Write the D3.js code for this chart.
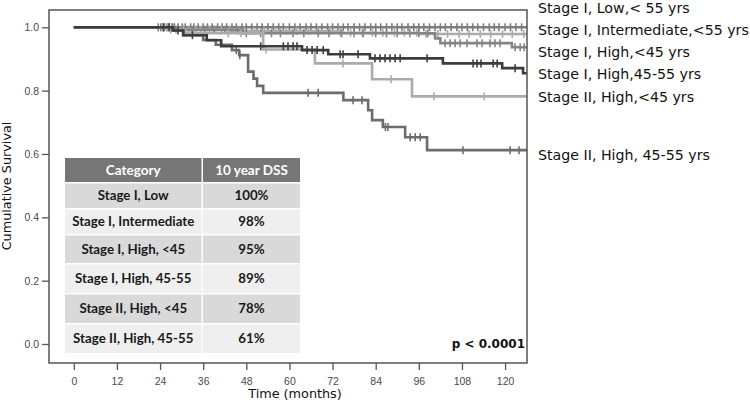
<!DOCTYPE html>
<html><head><meta charset="utf-8">
<script src="https://cdn.jsdelivr.net/npm/d3@7"></script>
<style>
html,body{margin:0;padding:0;background:#fff;}
svg{display:block;}
</style></head>
<body><svg id="chart" width="750" height="404"></svg>
<script>
// ---------- DATA ----------
const xTicks = [0, 12, 24, 36, 48, 60, 72, 84, 96, 108, 120];
const yTicks = [0.0, 0.2, 0.4, 0.6, 0.8, 1.0];
const seriesLabels = [
  "Stage I, Low,< 55 yrs",
  "Stage I, Intermediate,<55 yrs",
  "Stage I, High,<45 yrs",
  "Stage I, High,45-55 yrs",
  "Stage II, High,<45 yrs",
  "Stage II, High, 45-55 yrs"
];
// step points: [month, survival after step]
const lowSteps = [[0, 1]];
const intSteps = [[0, 1], [27, 0.993], [44, 0.988], [74, 0.983], [96, 0.979]];
const hi45Steps = [[0, 1], [30, 0.992], [47, 0.981], [100.5, 0.965], [102, 0.95], [121.9, 0.937]];
const hi4555Steps = [[0, 1], [27.5, 0.99], [30.4, 0.975], [37, 0.959], [41, 0.94], [63.5, 0.928], [70.8, 0.915], [82.4, 0.902], [102.7, 0.886], [119.2, 0.871], [125, 0.855]];
const s2lt45Steps = [[0, 1], [26, 0.992], [31, 0.981], [52.7, 0.93], [67.1, 0.886], [83, 0.836], [94.1, 0.782]];
const s24555Steps = [[0, 1], [28, 0.99], [30.5, 0.975], [36, 0.96], [39.5, 0.945], [44, 0.928], [46, 0.912], [48.5, 0.86], [50, 0.838], [51, 0.815], [52.7, 0.793], [75, 0.77], [81.9, 0.738], [83, 0.707], [86, 0.685], [92.2, 0.653], [98.3, 0.612]];
// censoring marks (months)
const lowCensor = [23.5, 24.2, 25, 25.8, 26.5, 27.3, 28, 29, 30.2, 31, 32.5, 33.4, 34.6, 36, 37.2, 38.5, 40, 41.3, 42.5, 44, 45.2, 46.8, 48, 49.5, 51, 52.4, 54, 55.5, 57, 58.3, 60, 61.5, 63, 64.6, 66, 67.5, 69, 70.6, 72, 73.5, 75, 76.3, 78, 79.5, 81, 82.6, 84, 85.4, 87, 88.5, 90, 91.3, 93, 94.6, 96, 97.4, 99, 100.5, 102, 103.4, 105, 106.6, 108, 109.5, 111, 112.4, 114, 115.6, 117, 118.3, 120, 121.5, 123, 124.6];
const intCensor = [24.6, 26, 28.4, 30.6, 32, 33.9, 35.3, 37.8, 39.2, 41, 43.4, 45.8, 47.3, 50.2, 53, 56, 59.1, 62, 65.3, 68, 71.2, 74.2, 77, 80.3, 83.1, 86, 89.2, 92, 95.4, 98, 101.3, 104, 107.2, 110, 113.1, 116, 119.3, 122, 125.2];
const hi45Censor = [25, 27.5, 31, 33, 36.5, 39, 42, 45.5, 48, 52, 55, 57.5, 61, 64, 68, 71, 74.5, 78, 80.5, 84, 87, 90, 93.5, 96, 98.5, 103.3, 104.7, 106.1, 107.5, 109.4, 112.2, 113.6, 115.8, 117.2, 118.6, 122.8, 124.2, 125.3];
const hi4555Censor = [25, 26.5, 29, 33, 52, 58.3, 59.6, 61, 62.1, 64.9, 66.3, 67.7, 69.4, 74.1, 74.9, 79.1, 83.8, 85.2, 86.6, 88, 89.4, 90.8, 98.3, 111.1, 112.2, 113.3, 116.7, 117.8, 122.8];
const s2lt45Censor = [24.5, 27, 43, 46.5, 53.5, 74.9, 88.3, 100.2, 114.2];
const s24555Censor = [45.2, 46.2, 65.2, 68, 77.7, 80.2, 86.7, 87.4, 93.6, 95, 96.4, 108.3, 121.4, 123.9];
const endMonth = 126.2;
// table
const tableHeader = ["Category", "10 year DSS"];
const tableCategories = ["Stage I, Low", "Stage I, Intermediate", "Stage I, High, <45", "Stage I, High, 45-55", "Stage II, High, <45", "Stage II, High, 45-55"];
const tableDSS = ["100%", "98%", "95%", "89%", "78%", "61%"];
const pValueText = "p < 0.0001";

// ---------- LAYOUT ----------
const svg = d3.select("#chart");
const L = 49, R = 527, T = 10, B = 363;
const x = d3.scaleLinear().domain([-6.9, 126.1]).range([L, R]);
const y = d3.scaleLinear().domain([-0.06, 1.0546]).range([B, T]);

svg.append("defs").append("clipPath").attr("id", "clip")
  .append("rect").attr("x", L).attr("y", T).attr("width", R - L).attr("height", B - T);

const series = [
  {steps: lowSteps, cens: lowCensor, color: "#7d7d7d"},
  {steps: intSteps, cens: intCensor, color: "#ababab"},
  {steps: hi45Steps, cens: hi45Censor, color: "#858585"},
  {steps: s2lt45Steps, cens: s2lt45Censor, color: "#ababab"},
  {steps: s24555Steps, cens: s24555Censor, color: "#6c6c6c"},
  {steps: hi4555Steps, cens: hi4555Censor, color: "#3c3c3c"}
];

const line = d3.line().x(d => x(d[0])).y(d => y(d[1])).curve(d3.curveStepAfter);
const g = svg.append("g").attr("clip-path", "url(#clip)");
function survAt(steps, t) {
  let s = steps[0][1];
  for (const st of steps) { if (st[0] <= t) s = st[1]; }
  return s;
}
series.forEach(s => {
  const pts = s.steps.slice();
  pts.push([endMonth, pts[pts.length - 1][1]]);
  g.append("path").attr("d", line(pts)).attr("fill", "none")
    .attr("stroke", s.color).attr("stroke-width", 2.6);
  g.selectAll(null).data(s.cens).enter().append("line")
    .attr("x1", d => x(d)).attr("x2", d => x(d))
    .attr("y1", d => y(survAt(s.steps, d)) - 4).attr("y2", d => y(survAt(s.steps, d)) + 4)
    .attr("stroke", s.color).attr("stroke-width", 1.6);
});

// frame
svg.append("rect").attr("x", L).attr("y", T).attr("width", R - L).attr("height", B - T)
  .attr("fill", "none").attr("stroke", "#555").attr("stroke-width", 1.5);

// axes
const xAxis = svg.append("g").attr("transform", `translate(0,${B})`)
  .call(d3.axisBottom(x).tickValues(xTicks).tickSize(7).tickPadding(8).tickSizeOuter(0));
const yAxis = svg.append("g").attr("transform", `translate(${L},0)`)
  .call(d3.axisLeft(y).tickValues(yTicks).tickFormat(d3.format(".1f")).tickSize(7).tickPadding(3).tickSizeOuter(0));
[xAxis, yAxis].forEach(a => {
  a.select(".domain").remove();
  a.selectAll(".tick line").attr("stroke", "#555").attr("stroke-width", 1.3);
  a.selectAll(".tick text").attr("fill", "#4a4a4a").style("font-family", "'Liberation Sans', Arial, sans-serif").style("font-size", "10.5px");
});

// axis titles
svg.append("text").attr("x", 295).attr("y", 398).attr("text-anchor", "middle")
  .style("font-family", "'DejaVu Sans', sans-serif").style("font-size", "12.8px").attr("fill", "#111")
  .text("Time (months)");
svg.append("text").attr("transform", "translate(11,186) rotate(-90)").attr("text-anchor", "middle")
  .style("font-family", "'DejaVu Sans', sans-serif").style("font-size", "12.8px").attr("fill", "#111")
  .text("Cumulative Survival");

// right-side labels
const labelY = [8, 30, 52, 74, 97, 155];
svg.selectAll(".slab").data(seriesLabels).enter().append("text")
  .attr("x", 538).attr("y", (d, i) => labelY[i]).attr("dy", "0.35em")
  .style("font-family", "'DejaVu Sans', sans-serif").style("font-size", "14.2px").attr("fill", "#111")
  .text(d => d);

// p value
svg.append("text").attr("x", 525).attr("y", 348).attr("text-anchor", "end")
  .style("font-family", "'DejaVu Sans', sans-serif").style("font-size", "12px").style("font-weight", "bold").attr("fill", "#111")
  .text(pValueText);

// table
const col = [[65, 201.5], [203, 300]];
const rowB = [158, 182, 208, 234, 263, 293, 323, 353];
const tg = svg.append("g");
const rows = [tableHeader].concat(tableCategories.map((c, i) => [c, tableDSS[i]]));
rows.forEach((r, i) => {
  const y0 = rowB[i] + (i === 0 ? 0 : 1.5), y1 = rowB[i + 1];
  const fill = i === 0 ? "#767676" : (i % 2 === 1 ? "#d9d9d9" : "#efefef");
  r.forEach((txt, j) => {
    tg.append("rect").attr("x", col[j][0]).attr("y", y0).attr("width", col[j][1] - col[j][0]).attr("height", y1 - y0).attr("fill", fill);
    tg.append("text").attr("x", (col[j][0] + col[j][1]) / 2).attr("y", (y0 + y1) / 2).attr("dy", "0.35em")
      .attr("text-anchor", "middle").style("font-family", "Lato, 'Open Sans', sans-serif")
      .style("font-size", i === 0 ? "13.5px" : "13.3px").style("font-weight", "bold")
      .attr("fill", i === 0 ? "#fff" : "#1a1a1a").text(txt);
  });
});
</script></body></html>
